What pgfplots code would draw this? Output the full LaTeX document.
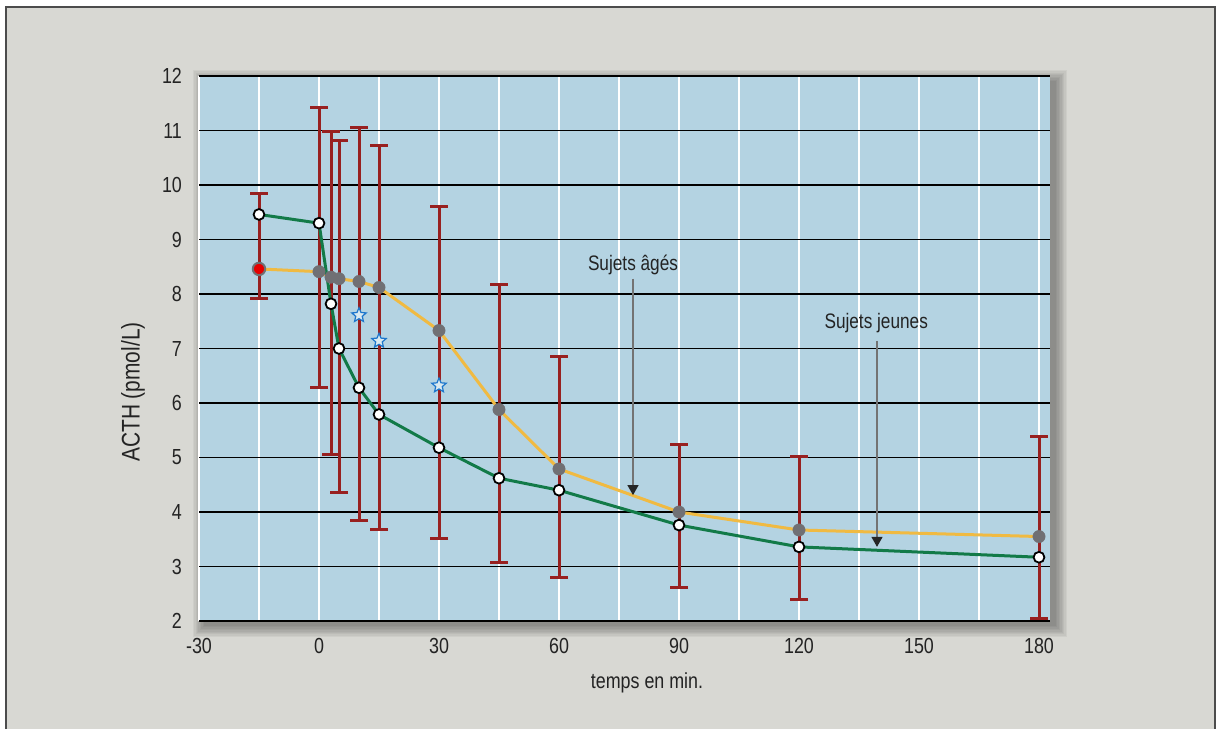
\documentclass[border=0pt]{standalone}
\usepackage{fontspec}
\setmainfont{Liberation Sans}[FakeStretch=0.82]
\usepackage{pgfplots}
\pgfplotsset{compat=1.18}
\usetikzlibrary{arrows.meta}

\definecolor{panelbg}{RGB}{216,216,211}
\definecolor{plotbg}{RGB}{180,211,226}
\definecolor{ygreen}{RGB}{18,122,72}
\definecolor{oorange}{RGB}{240,186,66}
\definecolor{mgrey}{RGB}{112,112,116}
\definecolor{errred}{RGB}{152,32,32}
\definecolor{starblue}{RGB}{28,118,204}
\definecolor{txt}{RGB}{35,35,35}

\newcommand\fs{\fontsize{10.9pt}{13pt}\selectfont}
\newcommand\fsl{\fontsize{12.75pt}{15pt}\selectfont}
\newcommand\fsa{\fontsize{10.5pt}{13pt}\selectfont}

\pgfdeclareplotmark{fivestar}{%
  \pgfpathmoveto{\pgfpointpolar{90}{\pgfplotmarksize}}%
  \pgfpathlineto{\pgfpointpolar{126}{0.45\pgfplotmarksize}}%
  \pgfpathlineto{\pgfpointpolar{162}{\pgfplotmarksize}}%
  \pgfpathlineto{\pgfpointpolar{198}{0.45\pgfplotmarksize}}%
  \pgfpathlineto{\pgfpointpolar{234}{\pgfplotmarksize}}%
  \pgfpathlineto{\pgfpointpolar{270}{0.45\pgfplotmarksize}}%
  \pgfpathlineto{\pgfpointpolar{306}{\pgfplotmarksize}}%
  \pgfpathlineto{\pgfpointpolar{342}{0.45\pgfplotmarksize}}%
  \pgfpathlineto{\pgfpointpolar{18}{\pgfplotmarksize}}%
  \pgfpathlineto{\pgfpointpolar{54}{0.45\pgfplotmarksize}}%
  \pgfpathclose
  \pgfusepathqfillstroke}

\begin{document}
\begin{tikzpicture}
\path[use as bounding box] (0,0) rectangle (608pt,-364.5pt);
\fill[white] (0,0) rectangle (608pt,-364.5pt);
\fill[panelbg] (3pt,-3.5pt) rectangle (607.5pt,-364.5pt);
\draw[black!70, line width=0.8pt] (3pt,-364.5pt) -- (3pt,-3.5pt) -- (607.5pt,-3.5pt) -- (607.5pt,-364.5pt);
% soft shadow of the plot area
\foreach \k in {0,...,8} {
  \fill[black, opacity=0.045] ({102pt-\k*0.7pt},{-40.5pt+\k*0.7pt}) rectangle ({528pt+\k*0.7pt},{-313pt-\k*0.7pt});
}
\begin{axis}[
  at={(99.5pt,-310.5pt)}, anchor=south west,
  width=425.5pt, height=272.5pt, scale only axis,
  xmin=-30, xmax=182.75, ymin=2, ymax=12,
  axis background/.style={fill=plotbg},
  axis line style={draw=none},
  xtick={-30,0,30,60,90,120,150,180},
  xticklabels={-30,0,30,60,90,120,150,180},
  minor xtick={-15,15,45,75,105,135,165},
  ytick={2,3,4,5,6,7,8,9,10,11,12},
  yticklabels={2,3,4,5,6,7,8,9,10,11,12},
  xmajorgrids, xminorgrids, ymajorgrids,
  major x grid style={white, line width=1pt},
  minor x grid style={white, line width=1pt},
  major y grid style={black, line width=0.6pt},
  major tick length=0pt, minor tick length=0pt,
  tick label style={font=\fs, text=txt},
  xticklabel style={yshift=-5pt},
  yticklabel style={xshift=-5pt},
  clip=false,
]
\draw[black, line width=0.8pt] (rel axis cs:0,0) -- (rel axis cs:1,0);

% error bars (centre +- half range)
\addplot[draw=none, mark=none, forget plot,
  error bars/.cd, y dir=both, y explicit,
  error bar style={draw=errred, line width=1.5pt},
  error mark options={rotate=90, draw=errred, line width=1.5pt, mark size=4.5pt}]
coordinates {
  (-15,8.885) +- (0,0.965)
  (0,8.855) +- (0,2.565)
  (3,8.02) +- (0,2.97)
  (5,7.585) +- (0,3.225)
  (10,7.455) +- (0,3.605)
  (15,7.205) +- (0,3.525)
  (30,6.56) +- (0,3.04)
  (45,5.63) +- (0,2.55)
  (60,4.825) +- (0,2.035)
  (90,3.92) +- (0,1.31)
  (120,3.705) +- (0,1.305)
  (180,3.72) +- (0,1.67)
};

% Sujets ages (orange line)
\addplot[oorange, line width=1.5pt, mark=none] coordinates {
  (-15,8.46) (0,8.41) (3,8.31) (5,8.28) (10,8.23) (15,8.12) (30,7.33)
  (45,5.88) (60,4.79) (90,4.00) (120,3.67) (180,3.55)
};
% Sujets jeunes (green line)
\addplot[ygreen, line width=1.5pt, mark=none] coordinates {
  (-15,9.46) (0,9.30) (3,7.82) (5,7.00) (10,6.28) (15,5.79) (30,5.18)
  (45,4.62) (60,4.40) (90,3.76) (120,3.36) (180,3.17)
};
% markers
\addplot[only marks, mark=*, mark size=3.1pt, mark options={fill=mgrey, draw=mgrey, line width=0.2pt}] coordinates {
  (0,8.41) (3,8.31) (5,8.28) (10,8.23) (15,8.12) (30,7.33)
  (45,5.88) (60,4.79) (90,4.00) (120,3.67) (180,3.55)
};
\addplot[only marks, mark=*, mark size=3.1pt, mark options={fill=red!90!black, draw=mgrey, line width=1pt}] coordinates {(-15,8.46)};
\addplot[only marks, mark=*, mark size=2.7pt, mark options={fill=white, draw=black, line width=0.9pt}] coordinates {
  (-15,9.46) (0,9.30) (3,7.82) (5,7.00) (10,6.28) (15,5.79) (30,5.18)
  (45,4.62) (60,4.40) (90,3.76) (120,3.36) (180,3.17)
};
\addplot[only marks, mark=fivestar, mark size=3.8pt, mark options={fill=plotbg!50!white, draw=starblue, line width=0.6pt}] coordinates {
  (10,7.61) (15,7.14) (30,6.32)
};

% annotations
\draw[black!55, line width=0.6pt, -{Triangle[length=5pt,width=5.5pt,color=black!85]}] (axis cs:78.5,8.28) -- (axis cs:78.5,4.31);
\node[font=\fsa, text=txt] at (axis cs:78.5,8.53) {Sujets âgés};
\draw[black!55, line width=0.6pt, -{Triangle[length=5pt,width=5.5pt,color=black!85]}] (axis cs:139.5,7.14) -- (axis cs:139.5,3.36);
\node[font=\fsa, text=txt] at (axis cs:139.3,7.47) {Sujets jeunes};
\end{axis}
\node[font=\fs, text=txt] at (323.5pt,-341.5pt) {temps en min.};
\node[font=\fsl, text=txt, rotate=90] at (66.5pt,-196pt) {ACTH (pmol/L)};
\end{tikzpicture}
\end{document}
